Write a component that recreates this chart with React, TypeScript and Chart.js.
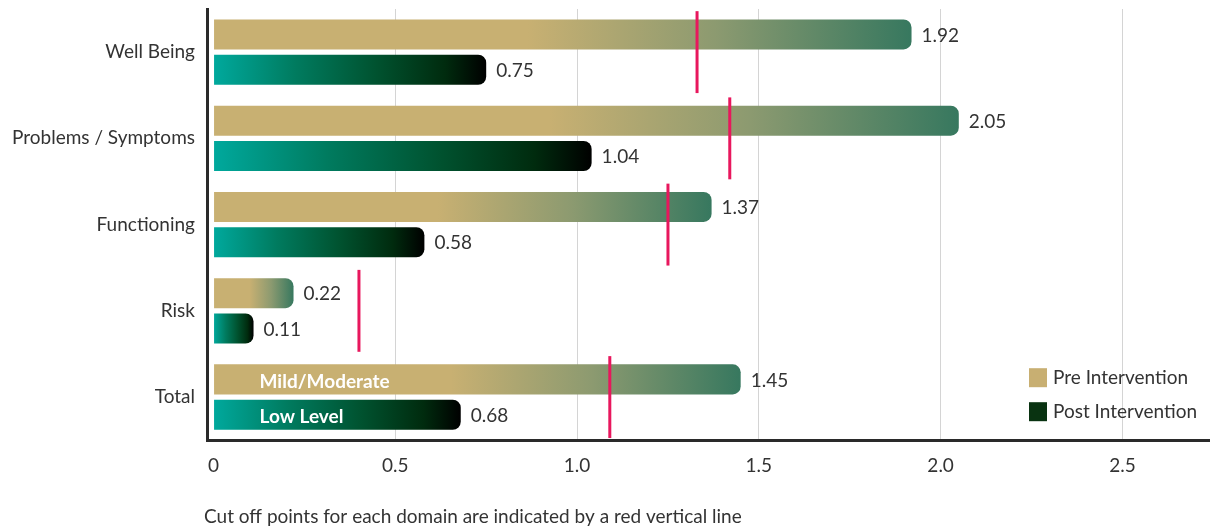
import React, { useEffect, useRef } from "react";
import { Chart, registerables } from "chart.js";

Chart.register(...registerables);

// Domain scores before and after the intervention
const domains = ["Well Being", "Problems / Symptoms", "Functioning", "Risk", "Total"];
const preIntervention = [1.92, 2.05, 1.37, 0.22, 1.45];
const postIntervention = [0.75, 1.04, 0.58, 0.11, 0.68];
// Clinical cut-off score for each domain
const cutOffPoints = [1.33, 1.42, 1.25, 0.4, 1.09];

const xTickValues = [0, 0.5, 1.0, 1.5, 2.0, 2.5];
const xTickLabels = ["0", "0.5", "1.0", "1.5", "2.0", "2.5"];
const seriesNames = ["Pre Intervention", "Post Intervention"];
const totalLevelLabels = ["Mild/Moderate", "Low Level"];
const footnote = "Cut off points for each domain are indicated by a red vertical line";

const FONT = "Lato, 'Open Sans', sans-serif";
const TEXT = "#333333";
const PRE_SWATCH = "#C8AF72";
const POST_SWATCH = "#093311";

type GradFn = (g: CanvasGradient) => void;

const preStops: GradFn = (g) => {
  g.addColorStop(0, "#C8B072");
  g.addColorStop(0.45, "#C8B072");
  g.addColorStop(0.72, "#8C9A70");
  g.addColorStop(1, "#37785F");
};

const postStops: GradFn = (g) => {
  g.addColorStop(0, "#00A99D");
  g.addColorStop(0.3, "#007B5F");
  g.addColorStop(0.6, "#00522F");
  g.addColorStop(0.85, "#002B0E");
  g.addColorStop(1, "#000000");
};

// Each bar gets its own horizontal gradient from the zero line to its end
const barGradient = (stops: GradFn, fallback: string) => (c: any) => {
  const chart = c.chart;
  const xs = chart.scales?.x;
  if (!chart.chartArea || !xs || c.type !== "data") return fallback;
  const x0 = xs.getPixelForValue(0);
  const x1 = xs.getPixelForValue(c.raw as number);
  if (!isFinite(x0) || !isFinite(x1) || x1 <= x0) return fallback;
  const g = chart.ctx.createLinearGradient(x0, 0, x1, 0);
  stops(g);
  return g;
};

const annotations = {
  id: "annotations",
  afterDatasetsDraw(chart: any) {
    const { ctx, scales } = chart;
    const x = scales.x;
    const y = scales.y;
    const band = y.getPixelForValue(1) - y.getPixelForValue(0);
    ctx.save();

    // red cut-off markers spanning each domain row
    ctx.strokeStyle = "#E8175D";
    ctx.lineWidth = 3;
    cutOffPoints.forEach((v, i) => {
      const px = x.getPixelForValue(v);
      const cy = y.getPixelForValue(i);
      ctx.beginPath();
      ctx.moveTo(px, cy - band * 0.475);
      ctx.lineTo(px, cy + band * 0.475);
      ctx.stroke();
    });

    // value labels at the end of every bar
    ctx.font = `19px ${FONT}`;
    ctx.fillStyle = TEXT;
    ctx.textBaseline = "middle";
    ctx.textAlign = "left";
    chart.data.datasets.forEach((ds: any, di: number) => {
      const meta = chart.getDatasetMeta(di);
      meta.data.forEach((bar: any, i: number) => {
        const v = ds.data[i] as number;
        ctx.fillText(v.toFixed(2), bar.x + 10, bar.y + 1);
      });
    });

    // level labels inside the Total bars
    const last = domains.length - 1;
    ctx.font = `bold 19px ${FONT}`;
    ctx.fillStyle = "#FFFFFF";
    totalLevelLabels.forEach((t, di) => {
      const bar = chart.getDatasetMeta(di).data[last];
      ctx.fillText(t, x.getPixelForValue(0) + 46, bar.y + 2);
    });
    ctx.restore();
  },
  afterDraw(chart: any) {
    const { ctx, chartArea, height } = chart;
    ctx.save();
    ctx.font = `19px ${FONT}`;
    ctx.fillStyle = TEXT;
    ctx.textBaseline = "middle";
    ctx.textAlign = "left";

    // legend in the lower right of the plot
    const swatches = [PRE_SWATCH, POST_SWATCH];
    chart.data.datasets.forEach((ds: any, i: number) => {
      const sx = chartArea.right - 181;
      const sy = chartArea.bottom - 72 + i * 34;
      ctx.fillStyle = swatches[i];
      ctx.fillRect(sx, sy, 18, 19);
      ctx.fillStyle = TEXT;
      ctx.fillText(ds.label, sx + 24, sy + 10);
    });

    // footnote under the axis
    ctx.fillText(footnote, chartArea.left - 3, height - 13);
    ctx.restore();
  },
};

export default function App() {
  const canvasRef = useRef<HTMLCanvasElement | null>(null);

  useEffect(() => {
    const canvas = canvasRef.current;
    if (!canvas) return;
    const chart = new Chart(canvas, {
      type: "bar",
      data: {
        labels: domains,
        datasets: [
          {
            label: seriesNames[0],
            data: preIntervention,
            backgroundColor: barGradient(preStops, PRE_SWATCH) as any,
            borderRadius: 8,
            borderSkipped: "start",
            categoryPercentage: 0.82,
            barPercentage: 0.85,
          },
          {
            label: seriesNames[1],
            data: postIntervention,
            backgroundColor: barGradient(postStops, POST_SWATCH) as any,
            borderRadius: 8,
            borderSkipped: "start",
            categoryPercentage: 0.82,
            barPercentage: 0.85,
          },
        ],
      },
      options: {
        indexAxis: "y",
        animation: false,
        responsive: true,
        maintainAspectRatio: false,
        layout: { padding: { top: 9, bottom: 39, left: 0, right: 0 } },
        plugins: {
          legend: { display: false },
          tooltip: { enabled: false },
        },
        scales: {
          x: {
            type: "linear",
            min: -0.018,
            max: 2.741,
            afterBuildTicks: (scale: any) => {
              scale.ticks = xTickValues.map((v) => ({ value: v }));
            },
            afterFit: (scale: any) => {
              scale.paddingLeft = 0;
              scale.paddingRight = 0;
            },
            ticks: {
              callback: (_v: any, i: number) => xTickLabels[i],
              color: TEXT,
              font: { family: FONT, size: 19 },
              padding: 14,
              maxRotation: 0,
            },
            grid: {
              color: (c: any) => (c.tick && c.tick.value === 0 ? "rgba(0,0,0,0)" : "#D4D4D4"),
              lineWidth: 1,
              drawTicks: false,
            },
            border: { display: true, color: "#2A2A2A", width: 3 },
          },
          y: {
            type: "category",
            afterFit: (scale: any) => {
              scale.width = 207;
              scale.paddingTop = 0;
              scale.paddingBottom = 0;
            },
            ticks: {
              color: TEXT,
              font: { family: FONT, size: 19 },
              padding: 12,
            },
            grid: { display: false, drawTicks: false },
            border: { display: true, color: "#2A2A2A", width: 3 },
          },
        },
      },
      plugins: [annotations],
    });
    return () => chart.destroy();
  }, []);

  return (
    <div style={{ position: "fixed", left: 0, top: 0, width: 1210, height: 530, background: "#FFFFFF" }}>
      <canvas ref={canvasRef} />
    </div>
  );
}
